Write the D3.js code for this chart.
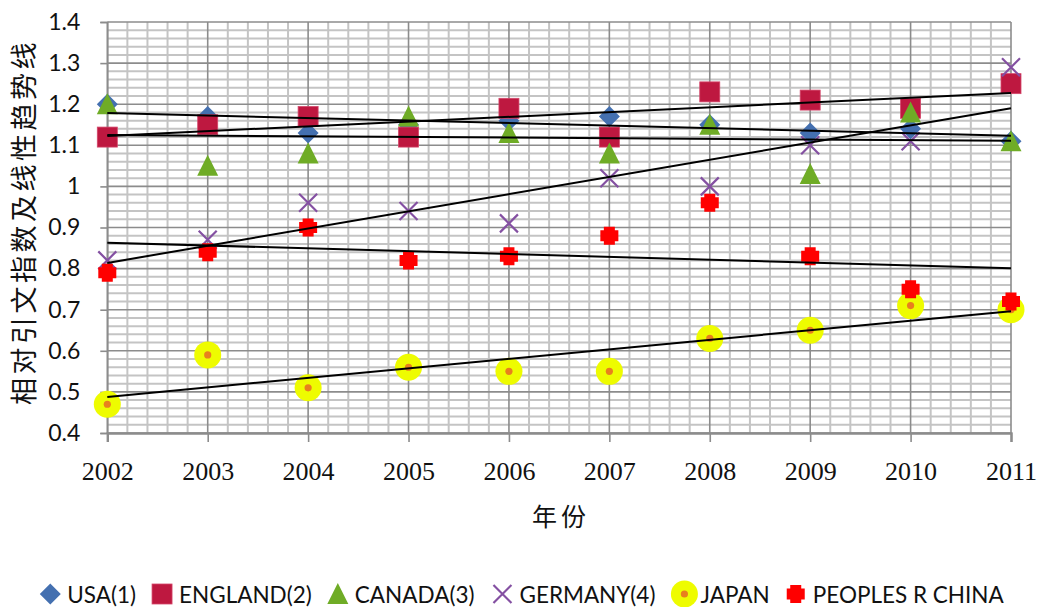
<!DOCTYPE html>
<html>
<head>
<meta charset="utf-8">
<script src="https://cdn.jsdelivr.net/npm/d3@7"></script>
<style>
  html, body { margin: 0; padding: 0; background: #fff; }
  svg { display: block; }
</style>
</head>
<body>
<svg id="chart" width="1041" height="607"></svg>
<script>
// ---------- data ----------
const years = [2002, 2003, 2004, 2005, 2006, 2007, 2008, 2009, 2010, 2011];
const usa     = [1.20, 1.17, 1.13, 1.15, 1.16, 1.17, 1.15, 1.13, 1.14, 1.11];
const england = [1.12, 1.15, 1.17, 1.12, 1.19, 1.12, 1.23, 1.21, 1.19, 1.25];
const canada  = [1.20, 1.05, 1.08, 1.17, 1.13, 1.08, 1.15, 1.03, 1.18, 1.11];
const germany = [0.82, 0.87, 0.96, 0.94, 0.91, 1.02, 1.00, 1.10, 1.11, 1.29];
const japan   = [0.47, 0.59, 0.51, 0.56, 0.55, 0.55, 0.63, 0.65, 0.71, 0.70];
const china   = [0.79, 0.84, 0.90, 0.82, 0.83, 0.88, 0.96, 0.83, 0.75, 0.72];
const seriesNames = ["USA(1)", "ENGLAND(2)", "CANADA(3)", "GERMANY(4)", "JAPAN", "PEOPLES R CHINA"];
const yTicks = [0.4, 0.5, 0.6, 0.7, 0.8, 0.9, 1, 1.1, 1.2, 1.3, 1.4];
const yTitle = "相对引文指数及线性趋势线";
const xTitle = "年份";

// ---------- setup ----------
const svg = d3.select("#chart");
const x = d3.scaleLinear().domain([2002, 2011]).range([107.3, 1011]);
const y = d3.scaleLinear().domain([0.4, 1.4]).range([433, 22]);

const series = [
  { name: seriesNames[0], values: usa,     shape: "diamond" },
  { name: seriesNames[1], values: england, shape: "square" },
  { name: seriesNames[2], values: canada,  shape: "triangle" },
  { name: seriesNames[3], values: germany, shape: "x" },
  { name: seriesNames[4], values: japan,   shape: "japan" },
  { name: seriesNames[5], values: china,   shape: "china" }
];

// ---------- grid ----------
const grid = svg.append("g");
const minorY = d3.range(0, 51).map(i => 0.4 + i * 0.02).filter((v, i) => i % 5 !== 0);
const minorX = d3.range(0, 46).map(i => 2002 + i * 0.2).filter((v, i) => i % 5 !== 0);

grid.selectAll(".mh").data(minorY).enter().append("line")
  .attr("x1", x(2002)).attr("x2", x(2011))
  .attr("y1", d => y(d)).attr("y2", d => y(d))
  .attr("stroke", "#c4c4c4").attr("stroke-width", 2);
grid.selectAll(".mv").data(minorX).enter().append("line")
  .attr("y1", y(0.4)).attr("y2", y(1.4))
  .attr("x1", d => x(d)).attr("x2", d => x(d))
  .attr("stroke", "#c4c4c4").attr("stroke-width", 2);
grid.selectAll(".Mh").data(yTicks).enter().append("line")
  .attr("x1", x(2002)).attr("x2", x(2011))
  .attr("y1", d => y(d)).attr("y2", d => y(d))
  .attr("stroke", "#8c8c8c").attr("stroke-width", 1.6);
grid.selectAll(".Mv").data(years).enter().append("line")
  .attr("y1", y(0.4)).attr("y2", y(1.4))
  .attr("x1", d => x(d)).attr("x2", d => x(d))
  .attr("stroke", "#8c8c8c").attr("stroke-width", 1.6);

// ---------- axes ----------
const yAxis = svg.append("g").attr("transform", `translate(${x(2002)},0)`)
  .call(d3.axisLeft(y).tickValues(yTicks).tickFormat(d3.format("")).tickSize(7).tickPadding(20));
yAxis.select(".domain").attr("stroke", "#8c8c8c").attr("stroke-width", 1.6);
yAxis.selectAll(".tick line").attr("stroke", "#8c8c8c").attr("stroke-width", 1.6);
yAxis.selectAll(".tick text").attr("font-family", "Lato, 'Open Sans', sans-serif")
  .attr("font-size", 23).attr("fill", "#111");

const xAxis = svg.append("g").attr("transform", `translate(0,${y(0.4)})`)
  .call(d3.axisBottom(x).tickValues(years).tickFormat(d3.format("d")).tickSize(9).tickPadding(20));
xAxis.select(".domain").attr("stroke", "#8c8c8c").attr("stroke-width", 2.4);
xAxis.selectAll(".tick line").attr("stroke", "#8c8c8c").attr("stroke-width", 1.6);
xAxis.selectAll(".tick text").attr("font-family", "'Liberation Serif', 'DejaVu Serif', serif")
  .attr("font-size", 26).attr("fill", "#111");

// ---------- titles ----------
svg.append("text")
  .attr("transform", "translate(34,222) rotate(-90)")
  .attr("text-anchor", "middle")
  .attr("font-family", "'Noto Sans CJK SC', sans-serif")
  .attr("font-size", 27).attr("letter-spacing", 3.5).attr("fill", "#111")
  .text(yTitle);
svg.append("text")
  .attr("x", 561).attr("y", 526)
  .attr("text-anchor", "middle")
  .attr("font-family", "'Noto Sans CJK SC', sans-serif")
  .attr("font-size", 25).attr("letter-spacing", 4).attr("fill", "#111")
  .text(xTitle);

// ---------- markers ----------
function drawMarker(g, shape) {
  if (shape === "diamond") {
    g.append("path").attr("d", "M0,-10.5L10.5,0L0,10.5L-10.5,0Z").attr("fill", "#4470b0");
  } else if (shape === "square") {
    g.append("rect").attr("x", -10).attr("y", -10).attr("width", 20).attr("height", 20)
      .attr("fill", "#be1840").attr("stroke", "#d4466a").attr("stroke-width", 0.8);
  } else if (shape === "triangle") {
    g.append("path").attr("d", "M0,-11L10.5,10L-10.5,10Z").attr("fill", "#6fac26");
  } else if (shape === "x") {
    g.append("path").attr("d", "M-9,-9L9,9M-9,9L9,-9")
      .attr("stroke", "#8450a2").attr("stroke-width", 2.2).attr("fill", "none");
  } else if (shape === "japan") {
    g.append("circle").attr("r", 13.5).attr("fill", "#eefc00");
    g.append("circle").attr("r", 3.6).attr("fill", "#e8801e");
  } else if (shape === "china") {
    g.append("path").attr("d", "M-5.5,-9H5.5V-5.5H9V5.5H5.5V9H-5.5V5.5H-9V-5.5H-5.5Z").attr("fill", "#ff0000");
  }
}

const markLayer = svg.append("g");
series.forEach(s => {
  const pts = years.map((yr, i) => ({ yr, v: s.values[i] }));
  markLayer.append("g").selectAll("g").data(pts).enter().append("g")
    .attr("transform", d => `translate(${x(d.yr)},${y(d.v)})`)
    .each(function () { drawMarker(d3.select(this), s.shape); });
});

// ---------- linear trendlines (least squares from data) ----------
const trendLayer = svg.append("g");
series.forEach(s => {
  const mx = d3.mean(years), my = d3.mean(s.values);
  let sxy = 0, sxx = 0;
  years.forEach((yr, i) => { sxy += (yr - mx) * (s.values[i] - my); sxx += (yr - mx) * (yr - mx); });
  const slope = sxy / sxx, icpt = my - slope * mx;
  const ends = [2002, 2011].map(yr => [x(yr), y(icpt + slope * yr)]);
  trendLayer.append("path").attr("d", d3.line()(ends))
    .attr("stroke", "#000").attr("stroke-width", 2).attr("fill", "none");
});

// ---------- legend ----------
const legend = svg.append("g");
let cursor = 0;
series.forEach((s, i) => {
  const g = legend.append("g");
  const half = s.shape === "japan" ? 13 : (s.shape === "x" ? 12 : 10);
  const mk = g.append("g").attr("transform", `translate(${cursor + half},0)`);
  drawMarker(mk, s.shape);
  const tx = cursor + half + (s.shape === "japan" ? 16 : 17);
  const t = g.append("text").attr("x", tx).attr("y", 9)
    .attr("font-family", "Lato, 'Open Sans', sans-serif").attr("font-size", 22.5).attr("fill", "#111")
    .text(s.name);
  const w = t.node().getComputedTextLength();
  cursor = tx + w + 16;
});
const totalW = cursor - 16;
legend.attr("transform", `translate(${522 - totalW / 2},594)`);
</script>
</body>
</html>
